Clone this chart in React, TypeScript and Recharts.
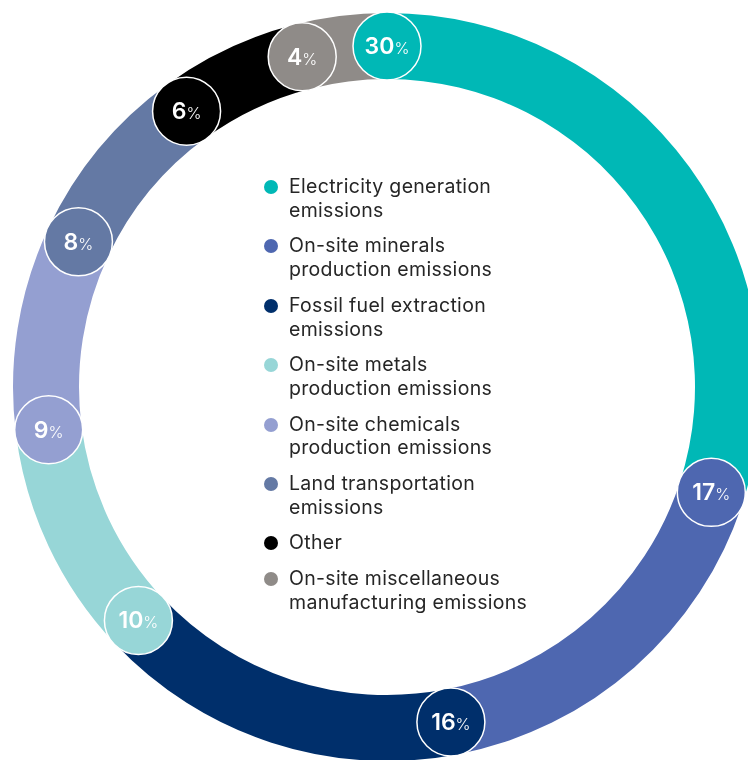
import { Legend, Pie, PieChart } from "recharts";

const categories = [
  "Electricity generation\nemissions",
  "On-site minerals\nproduction emissions",
  "Fossil fuel extraction\nemissions",
  "On-site metals\nproduction emissions",
  "On-site chemicals\nproduction emissions",
  "Land transportation\nemissions",
  "Other",
  "On-site miscellaneous\nmanufacturing emissions",
];

const shares = [30, 17, 16, 10, 9, 8, 6, 4];

const colors = [
  "#00b8b6",
  "#4e67b0",
  "#002f6b",
  "#97d6d7",
  "#949fd1",
  "#6479a4",
  "#000000",
  "#8f8b88",
];

const FONT = "Inter, 'Noto Sans', sans-serif";
const RAD = Math.PI / 180;

const data = categories.map((name, i) => ({ name, value: shares[i], fill: colors[i] }));

// badge sits on the ring where each slice begins (clockwise from 12 o'clock)
const StartBadge = (props: any) => {
  const { cx, cy, innerRadius, outerRadius, startAngle, value, index } = props;
  const r = (innerRadius + outerRadius) / 2;
  const x = cx + Math.cos(-startAngle * RAD) * r;
  const y = cy + Math.sin(-startAngle * RAD) * r;
  return (
    <g key={`badge-${index}`}>
      <circle cx={x} cy={y} r={34} fill={colors[index]} stroke="#ffffff" strokeWidth={1.5} />
      <text x={x} y={y + 8} textAnchor="middle" fill="#ffffff" fontFamily={FONT}>
        <tspan fontSize={23} fontWeight={600}>{value}</tspan>
        <tspan fontSize={16} fontWeight={300}>%</tspan>
      </text>
    </g>
  );
};

const LegendList = () => (
  <div
    style={{
      fontFamily: FONT,
      fontSize: 19.5,
      letterSpacing: 0.3,
      lineHeight: "23.7px",
      color: "#262626",
    }}
  >
    {data.map((d) => (
      <div key={d.name} style={{ display: "flex", marginBottom: 12 }}>
        <div
          style={{
            width: 14,
            height: 14,
            borderRadius: 7,
            background: d.fill,
            marginTop: 5,
            marginRight: 11,
            flexShrink: 0,
          }}
        />
        <div style={{ whiteSpace: "pre-line" }}>{d.name}</div>
      </div>
    ))}
  </div>
);

export default function App() {
  // fixed to the viewport so the ring can run off the right and bottom edges like the original
  return (
    <div style={{ position: "fixed", left: 0, top: 0, width: 748, height: 760, overflow: "hidden" }}>
      <PieChart width={770} height={770} margin={{ top: 0, right: 0, bottom: 0, left: 0 }}>
        <Pie
          data={data}
          dataKey="value"
          nameKey="name"
          cx={387}
          cy={387}
          innerRadius={308}
          outerRadius={374}
          startAngle={90}
          endAngle={-270}
          stroke="none"
          label={StartBadge}
          labelLine={false}
          isAnimationActive={false}
        />
        <Legend
          content={<LegendList />}
          wrapperStyle={{ position: "absolute", left: 264, top: 175, width: 340, bottom: "auto" }}
        />
      </PieChart>
    </div>
  );
}
